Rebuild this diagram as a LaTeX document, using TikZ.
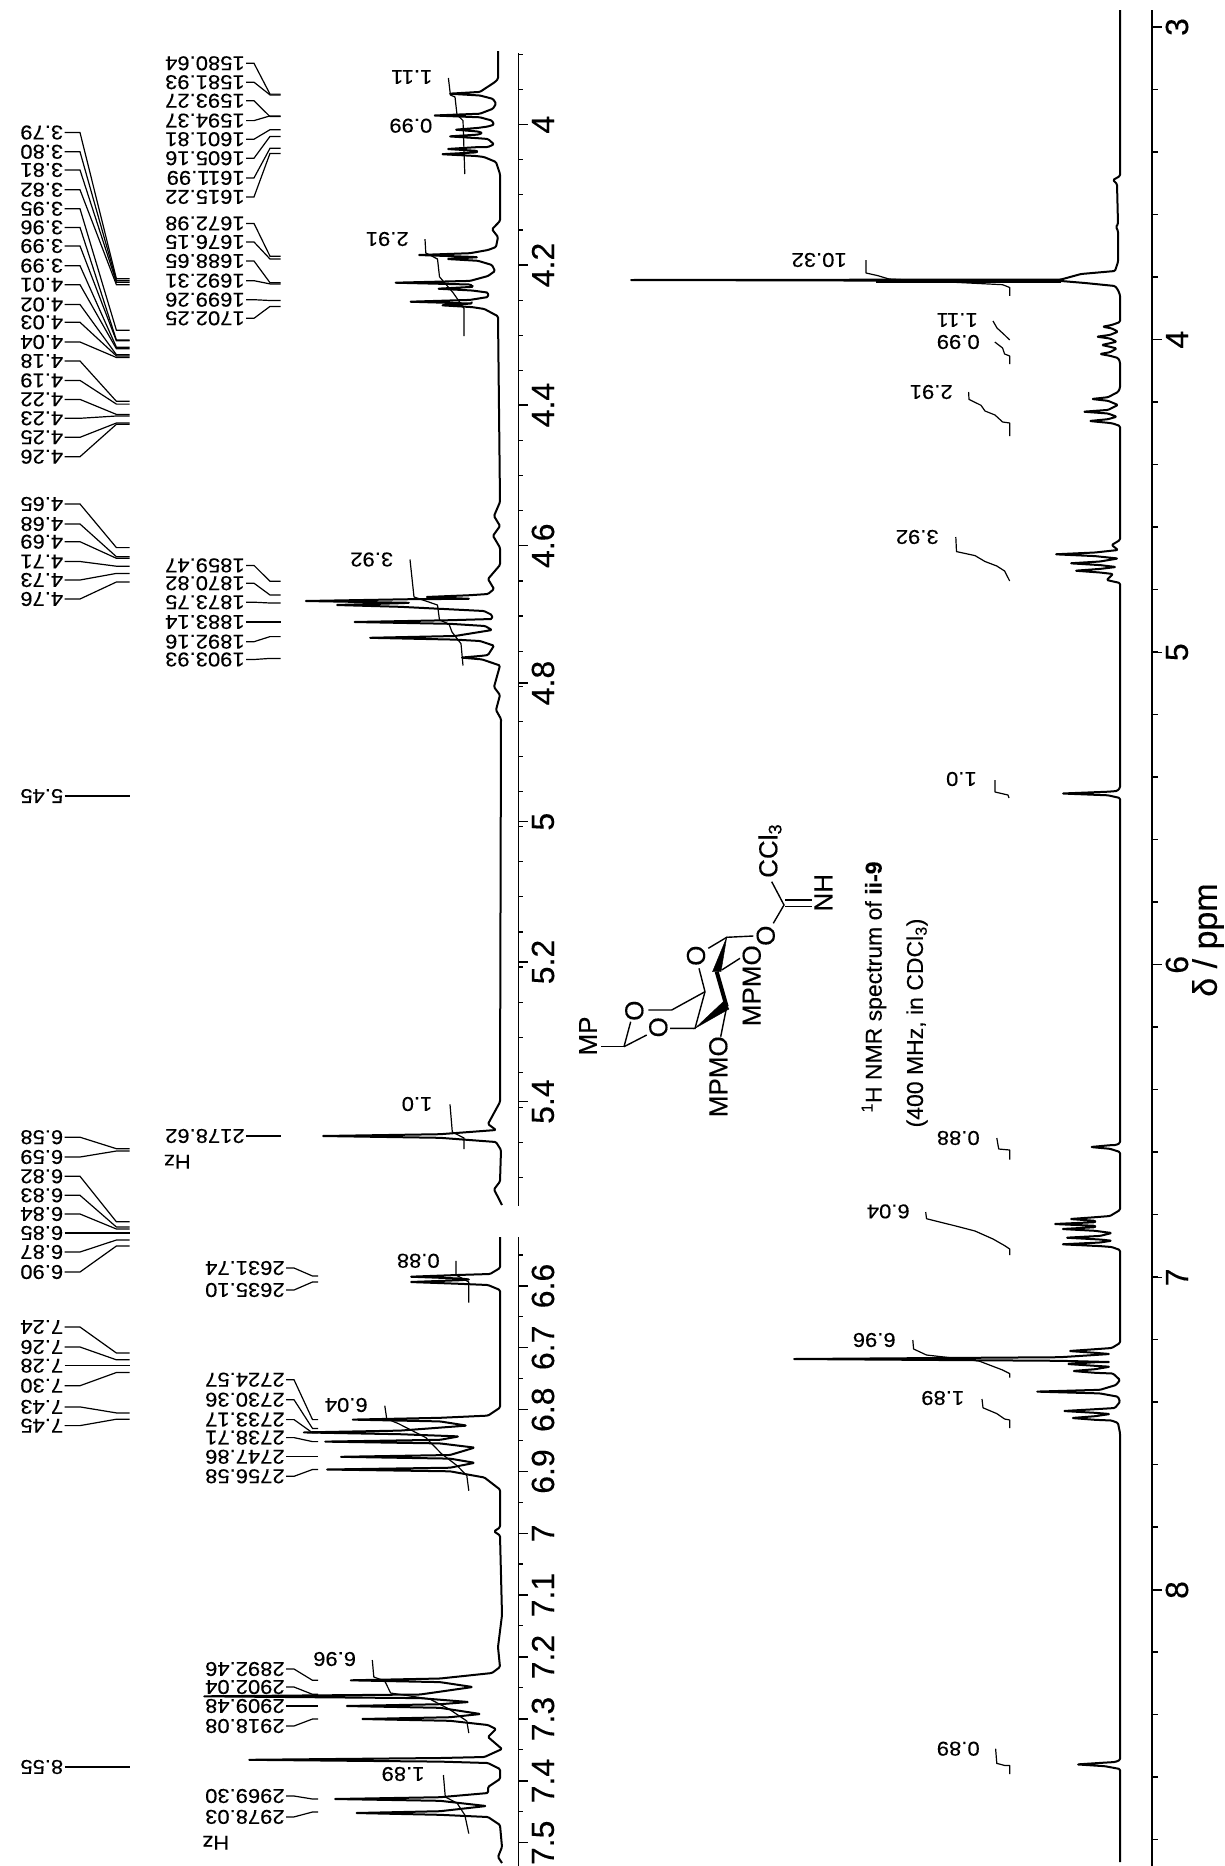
\documentclass[tikz,border=0pt]{standalone}
\usepackage{fontspec}
\setmainfont{Liberation Sans}[FakeBold=0.25]
\newcommand{\pk}[3]{-- (#3,{#2-1.8}) -- (#1,#2) -- (#3,{#2+1.8})}
\tikzset{
  shift-label/.style  = {font=\fontsize{20}{20}\selectfont, rotate=180, xscale=1.1, inner sep=1pt, anchor=west},
  axis-label/.style   = {font=\fontsize{32}{32}\selectfont, rotate=90, inner sep=0pt},
  atom/.style         = {font=\fontsize{26}{26}\selectfont, rotate=90, inner sep=0pt},
  title-text/.style   = {font=\fontsize{23}{23}\selectfont, rotate=90, inner sep=0pt},
  leader/.style       = {line width=1.2pt},
  trace/.style        = {line width=2pt, line join=round, rounded corners=1.2pt},
  integral/.style     = {line width=1.2pt, line join=round},
  axis-line/.style    = {line width=1.6pt},
  bond/.style         = {line width=1.4pt},
  wedge/.style        = {fill=black},
}
\begin{document}
\begin{tikzpicture}
  [
    x = 1pt,
    y = -1pt,
  ]
  \useasboundingbox (0,0) rectangle (1224,1866);

  % ppm column
  \foreach \yl/\txt/\yt [count=\i] in {
    132.5/3.79/278.8, 151.8/3.80/280.7, 170/3.81/282.3, 189.8/3.82/284.7,
    208.8/3.95/330.2, 227.4/3.96/340, 246/3.99/340.8, 265.7/3.99/347.2,
    284.7/4.01/348.8, 304.5/4.02/354.7, 322.3/4.03/355.9, 342/4.04/357.5,
    361/4.18/401.3, 380.4/4.19/404.1, 399.4/4.22/414.4, 418.3/4.23/416,
    437.3/4.25/423, 456.7/4.26/424.3,
    504/4.65/547.6, 524/4.68/556.7, 541.7/4.69/558.3, 561.5/4.71/566.2,
    580/4.73/573.4, 599/4.76/582,
    796/5.45/796,
    1137.2/6.58/1148.7, 1157/6.59/1151, 1176.3/6.82/1221.8, 1195.3/6.83/1227,
    1214/6.84/1229, 1233/6.85/1233, 1252/6.87/1240, 1272/6.90/1246,
    1327/7.24/1353, 1347/7.26/1359.8, 1365.7/7.28/1365.7, 1385.7/7.30/1372.5,
    1406.9/7.43/1412.9, 1425.6/7.45/1419.2,
    1767/8.55/1767}
  {
    \node [shift-label] (ppm\i) at (64.5,\yl) {\txt};
    \coordinate (ppmend\i) at (129.7,\yt);
    \draw [leader] (ppm\i.west) -- ++(15.5,0) -- (116.4,\yt) -- (ppmend\i);
  }

  % Hz columns
  \foreach \yl/\txt/\yt [count=\i] in {
    63.3/1580.64/94.1, 82.2/1581.93/94.9, 100.8/1593.27/116.6, 120.6/1594.37/115.9,
    139.2/1601.81/129.7, 158.2/1605.16/136.4, 177.9/1611.99/148.3, 196.9/1615.22/153.4,
    223.4/1672.98/256.2, 242/1676.15/259, 261/1688.65/282.7, 280.7/1692.31/283.9,
    299.7/1699.26/300.5, 318.3/1702.25/306.4,
    565.4/1859.47/581.3, 583.2/1870.82/595, 602.2/1873.75/603, 622/1883.14/622,
    641.7/1892.16/636.6, 659.5/1903.93/658.4,
    1136/2178.62/1136}
  {
    \node [shift-label] (hz\i) at (246,\yl) {\txt};
    \coordinate (hzend\i) at (280.5,\yt);
    \draw [leader] (hz\i.west) -- ++(8,0) -- (270,\yt) -- (hzend\i);
  }
  \foreach \yl/\txt/\yt [count=\i] in {
    1268/2631.74/1276, 1290/2635.10/1282,
    1379.7/2724.57/1419.6, 1399.7/2730.36/1428.4, 1419.6/2733.17/1432.8,
    1437.6/2738.71/1441.6, 1456.8/2747.86/1456.8, 1476.3/2756.58/1469.5,
    1669/2892.46/1680.3, 1687/2902.04/1694.3, 1706/2909.48/1706, 1726/2918.08/1719,
    1796/2969.30/1799, 1816.9/2978.03/1812}
  {
    \node [shift-label] (hzb\i) at (286,\yl) {\txt};
    \coordinate (hzbend\i) at (318,\yt);
    \draw [leader] (hzb\i.west) -- ++(8,0) -- (312.5,\yt) -- (hzbend\i);
  }
  \node [shift-label] (hz-top) at (192,1161.7) {Hz};
  \node [shift-label] (hz-bot) at (230.5,1842.8) {Hz};

  % inset axes
  \draw [axis-line] (518.4,53) -- (518.4,1206);
  \draw [axis-line] (518.4,1237) -- (518.4,1866);
  \foreach \yy in {54.4,89.5,...,1206}
    \draw [leader] (518.4,\yy) -- (523.4,\yy);
  \foreach \yy in {1255,1285.9,...,1866}
    \draw [leader] (518.4,\yy) -- (523.4,\yy);
  \foreach \yy/\txt in {124.6/4, 265/4.2, 405/4.4, 545.7/4.6, 683/4.8, 821.7/5, 962/5.2, 1101.6/5.4,
      1286/6.6, 1347.8/6.7, 1409.7/6.8, 1471.5/6.9, 1533.4/7, 1595/7.1, 1657/7.2, 1719/7.3, 1781/7.4, 1842.8/7.5}
  {
    \draw [leader] (518.4,\yy) -- (528,\yy);
    \node [axis-label] at (543,\yy) {\txt};
  }

  % main axis
  \draw [axis-line] (1152,10) -- (1152,1866);
  \foreach \yy in {27,89.5,...,1866}
    \draw [leader] (1152,\yy) -- (1158,\yy);
  \foreach \yy/\txt in {27/3, 339.6/4, 652.2/5, 964.8/6, 1277.4/7, 1590/8}
  {
    \draw [leader] (1152,\yy) -- (1162,\yy);
    \node [axis-label] at (1177,\yy) {\txt};
  }
  \node [axis-label, font=\fontsize{34}{34}\selectfont] (delta) at (1208,940) {δ / ppm};

  % main spectrum
  \draw [trace] (1120,10) -- (1120,176) -- (1113,180) -- (1117,184) -- (1118,224) -- (1116,227) -- (1118,231)
    -- (1118,262) -- (1115,271) -- (1081,274) -- (1061,279.5) -- (630,280) -- (1061,281) -- (1085,283)
    -- (1115,286) -- (1118,290) -- (1120,295) -- (1120,322)
    \pk{1102.7}{326.7}{1112} -- (1118,331.7) \pk{1096.7}{336.7}{1110} -- (1116.7,341.7) \pk{1101.7}{345}{1110} -- (1116.7,348.5)
    \pk{1100}{354}{1110} -- (1118,358) -- (1120,362) -- (1120,388) -- (1118,392)
    \pk{1091.7}{399}{1108} -- (1118,405) \pk{1083.3}{411.7}{1108} -- (1116.7,416.7) \pk{1089.3}{421}{1108} -- (1113,423.5)
    -- (1120,426) -- (1120,540) -- (1111.7,545) -- (1118,550) \pk{1055}{554.3}{1095} -- (1118,558.5)
    \pk{1070}{563.3}{1100} -- (1116,567) \pk{1075}{570.7}{1100} -- (1113,574) -- (1106.7,580) -- (1120,583)
    -- (1120,788) -- (1117,791) \pk{1062}{793.5}{1108} -- (1120,798)
    -- (1120,1143) -- (1116,1145) \pk{1090.5}{1147}{1110} -- (1120,1152) -- (1120,1210)
    -- (1110,1216) \pk{1070}{1219}{1095} \pk{1054}{1224}{1095} \pk{1061.7}{1229}{1095}
    -- (1111.7,1233) \pk{1066}{1237.7}{1100} -- (1111.7,1240.7) \pk{1061.7}{1244.3}{1100} -- (1111.7,1247) -- (1120,1250)
    -- (1120,1343) -- (1111.7,1348) \pk{1069}{1351}{1095} -- (1110,1354) \pk{793}{1359}{1060} -- (1110,1362)
    \pk{1067.3}{1364}{1095} -- (1110,1366.7) \pk{1072.7}{1371}{1095} -- (1113,1373.5) -- (1120,1380) -- (1116,1385)
    \pk{1036}{1391.6}{1100} -- (1118,1396.7) -- (1120,1401.7) -- (1115,1408)
    \pk{1063.3}{1411}{1095} -- (1110,1414) \pk{1071.7}{1418}{1095} -- (1111.7,1420.5) -- (1118,1423) -- (1120,1433)
    -- (1120,1760) -- (1115,1762) \pk{1077}{1764.4}{1105} -- (1120,1769) -- (1120,1862);
  \draw [line width=4pt] (876,280.5) -- (1061,280.5);

  % main integrals
  \foreach \xl/\yl/\txt [count=\i] in {
    848/260/10.32, 979/320/1.11, 981/342/0.99, 954/392/2.91, 940/537/3.92, 978/779/1.0,
    981/1138/0.88, 911/1211.4/6.04, 897/1340/6.96, 965.5/1398/1.89, 981/1748.7/0.89}
    \node [shift-label] (int\i) at (\xl,\yl) {\txt};
  \draw [integral] (866,260) -- (866,273) -- (877.6,275.6) -- (889,279) -- (1002.6,284.7) -- (1009.7,287.5) -- (1009.7,295.8);
  \draw [integral] (993,321) -- (997,328) -- (1004.6,335) -- (1009.7,340);
  \draw [integral] (994.8,342) -- (1002.6,348) -- (1004.6,354) -- (1009.7,356) -- (1009.7,364);
  \draw [integral] (968.6,392) -- (969,399.4) -- (981,405.3) -- (985,411) -- (995,415) -- (1002.6,422) -- (1009.7,423) -- (1009.7,436);
  \draw [integral] (955.8,537) -- (956.5,551.6) -- (975,555.6) -- (985,561.5) -- (996.8,566) -- (1004.6,571) -- (1009.7,581);
  \draw [integral] (995,780) -- (995,792) -- (1008,795) -- (1009,798);
  \draw [integral] (996.8,1138) -- (998.7,1149) -- (1009.7,1150) -- (1009.7,1159.6);
  \draw [integral] (925.7,1212) -- (926.5,1218.7) -- (955.8,1226) -- (975,1231) -- (993,1239) -- (1004.6,1245.6) -- (1009.7,1249) -- (1009.7,1255);
  \draw [integral] (912.8,1340) -- (913.6,1349) -- (926.5,1355) -- (979,1361) -- (1002.6,1370) -- (1009.7,1373.6) -- (1009.7,1377.5);
  \draw [integral] (982,1399) -- (983,1407.8) -- (996.8,1413.6) -- (1004.6,1419) -- (1009.7,1420) -- (1009.7,1428);
  \draw [integral] (995.6,1748.7) -- (996.8,1763.4) -- (1004.6,1765.4) -- (1009.7,1765.4) -- (1009.7,1774);

  % upper inset trace
  \draw [trace] (498,51) -- (498,79) -- (495,82) \pk{449}{93.7}{480} -- (493,98.9) -- (496,103.6) -- (493,108.7)
    \pk{433.6}{115.5}{480} -- (492,120.6) -- (494,124.6) -- (488,126.5) \pk{455}{129.7}{478} -- (482.4,133) \pk{449}{136.4}{478}
    -- (488,139) -- (494,144.3) -- (488,147) \pk{447}{149}{476} -- (478,151.5) \pk{441.4}{154.2}{476} -- (484,157)
    -- (496,162) -- (500,174) -- (500,221) -- (492,229.3) -- (498,237) -- (496,247) -- (488,250) \pk{418}{255}{470}
    \pk{447}{259}{478} -- (492,265) -- (495,271) -- (488,276) \pk{394.5}{282.7}{470} -- (472.6,286) \pk{437.5}{288.7}{472}
    -- (488,292.6) -- (488,297) \pk{409.4}{301.7}{470} -- (472,303.5) \pk{441.4}{305.3}{472} -- (484.4,309) -- (498,316.3) -- (500,502)
    -- (494,516) -- (500,526) -- (493,535.8) -- (500,547.6) -- (500,565) -- (488,579) -- (494,589) -- (488,594)
    \pk{425.8}{597}{470} \pk{304.7}{601}{410} \pk{336}{605}{400} -- (484,611) -- (492,615) -- (492,619)
    \pk{353.5}{622}{450} -- (485,626) -- (492,630) \pk{369}{637.8}{455} -- (480,641) -- (494,645.7) -- (488,655) \pk{461}{657.6}{482}
    -- (500,665.5) -- (494,687) -- (500,695) -- (496,710) -- (501,719) -- (500,1102) -- (488,1124)
    -- (496,1130) \pk{322}{1136}{440} -- (496,1142) -- (501,1150) -- (500,1181.5) -- (494,1189.4) -- (502,1205);

  % lower inset trace
  \draw [trace] (500,1237) -- (500,1268) -- (490,1274) \pk{410}{1276.7}{460} -- (470,1279.5) \pk{410}{1282}{460}
    -- (488,1285) -- (500,1290) -- (500,1407.7) -- (488,1415.6) \pk{351.6}{1419.6}{440} -- (466.8,1425.6) \pk{302.7}{1432.4}{400}
    -- (459,1436.4) \pk{324}{1441.6}{440} -- (474.6,1447.6) \pk{339.8}{1456.8}{450} -- (474.6,1462.8) \pk{326}{1469.5}{450}
    -- (484.4,1477.5) -- (500,1489.5) -- (500,1527.4) -- (494,1531.4) -- (500,1535.4) -- (502,1615) -- (498,1647)
    -- (500,1667) -- (492,1673) \pk{349.6}{1680.3}{440} -- (472.7,1687) \pk{203}{1696.3}{420} -- (468.8,1702) \pk{345.7}{1706}{440}
    -- (480.5,1714) \pk{361.3}{1719}{450} -- (488,1725) -- (496,1729) -- (488,1737) -- (502,1749) -- (484.4,1757)
    \pk{248}{1759.8}{440} -- (488,1763) -- (500,1769) -- (500,1779) -- (488,1787) -- (488,1793) \pk{334}{1799}{440}
    -- (486.3,1806) \pk{355.5}{1813}{440} -- (488,1817) -- (500,1825) -- (502,1847) -- (498,1857) -- (502,1863);

  % inset integrals
  \foreach \xl/\yl/\txt [count=\i] in {
    433.6/77/1.11, 433.6/125.7/0.99, 410/239/2.91, 394.5/559.5/3.92, 433.6/1104/1.0,
    441/1260.8/0.88, 369/1405/6.04, 357.4/1659/6.96, 425.8/1774/1.89}
    \node [shift-label] (inb\i) at (\xl,\yl) {\txt};
  \draw [integral] (448.4,78) -- (450.4,95) -- (455,97) -- (457,114.7) -- (463,120.6) -- (464.8,174);
  \draw [integral] (425,239.2) -- (425.8,253) -- (437.5,259) -- (439.5,276.8) -- (453,292.6) -- (464,308.4) -- (464,336);
  \draw [integral] (410,559.5) -- (414,597) -- (437.5,605) -- (439.5,620) -- (449,624) -- (452,632) -- (461,643.7) -- (463,665.5);
  \draw [integral] (450,1104.4) -- (452.3,1132) -- (464,1138) -- (464,1149);
  \draw [integral] (456,1260.8) -- (456,1275) -- (468.8,1282) -- (468.8,1302.7);
  \draw [integral] (384.8,1405.7) -- (386.7,1418.8) -- (398.4,1423.6) -- (425.8,1437.6) -- (441.4,1453.6) -- (457,1465.6) -- (466.8,1475.5) -- (468.8,1490.7);
  \draw [integral] (372.3,1660) -- (373.8,1677) -- (384.8,1681) -- (390.6,1693) -- (429.7,1699) -- (449,1709) -- (466.8,1721) -- (468.8,1733);
  \draw [integral] (443.4,1775) -- (445.3,1797) -- (457,1803) -- (464.8,1815) -- (468.8,1833.6);

  % structure
  \node [atom] (mp) at (588,1036) {MP};
  \node [atom] (o-a) at (634.3,1010.7) {O};
  \node [atom] (o-b) at (658.3,1027.3) {O};
  \node [atom] (o-ring) at (696,955.7) {O};
  \node [atom] (o-im) at (765.7,935.7) {O};
  \node [atom] (mpmo-a) at (718.3,1076.7) {MPMO};
  \node [atom] (mpmo-b) at (751.7,985.7) {MPMO};
  \node [atom] (nh) at (823.3,892.7) {NH};
  \node [atom, anchor=west] (ccl) at (770,878) {CCl\textsubscript{3}};
  \coordinate (c-ac) at (624,1046.7);
  \coordinate (c-ch) at (671.7,1010);
  \coordinate (c-4) at (695,1028.3);
  \coordinate (c-5) at (705,991.7);
  \coordinate (c-1) at (726.7,937.3);
  \coordinate (c-2) at (716.7,971.7);
  \coordinate (c-3) at (726.7,1006.7);
  \coordinate (c-im) at (784,905);
  \draw [bond] (601,1046.7) -- (c-ac);
  \draw [bond] (c-ac) -- (630.7,1021.7);
  \draw [bond] (c-ac) -- (646.7,1035);
  \draw [bond] (648.3,1010) -- (c-ch) -- (c-5);
  \draw [bond] (670,1028.3) -- (c-4) -- (c-5) -- (699,968.3);
  \draw [bond] (708.3,948.3) -- (c-1) -- (753.3,936);
  \draw [wedge] (c-1) -- (712.5,971.7) -- (721,971.7) -- cycle;
  \draw [line width=4pt, line join=round] (c-2) -- (c-3);
  \draw [wedge] (c-4) -- (724,1001) -- (729,1009) -- cycle;
  \draw [bond] (c-3) -- (720.7,1036.7);
  \draw [bond] (721.7,970) -- (740,958.3);
  \draw [bond] (773.3,923.3) -- (c-im) -- (771.7,881.7);
  \draw [bond] (785,900) -- (811.7,900);
  \draw [bond] (785,906.7) -- (811.7,906.7);

  % titles
  \node [title-text] (title-a) at (874,987) {\textsuperscript{1}H NMR spectrum of \textbf{ii-9}};
  \node [title-text] (title-b) at (917,1023) {(400 MHz, in CDCl\textsubscript{3})};
\end{tikzpicture}
\end{document}
